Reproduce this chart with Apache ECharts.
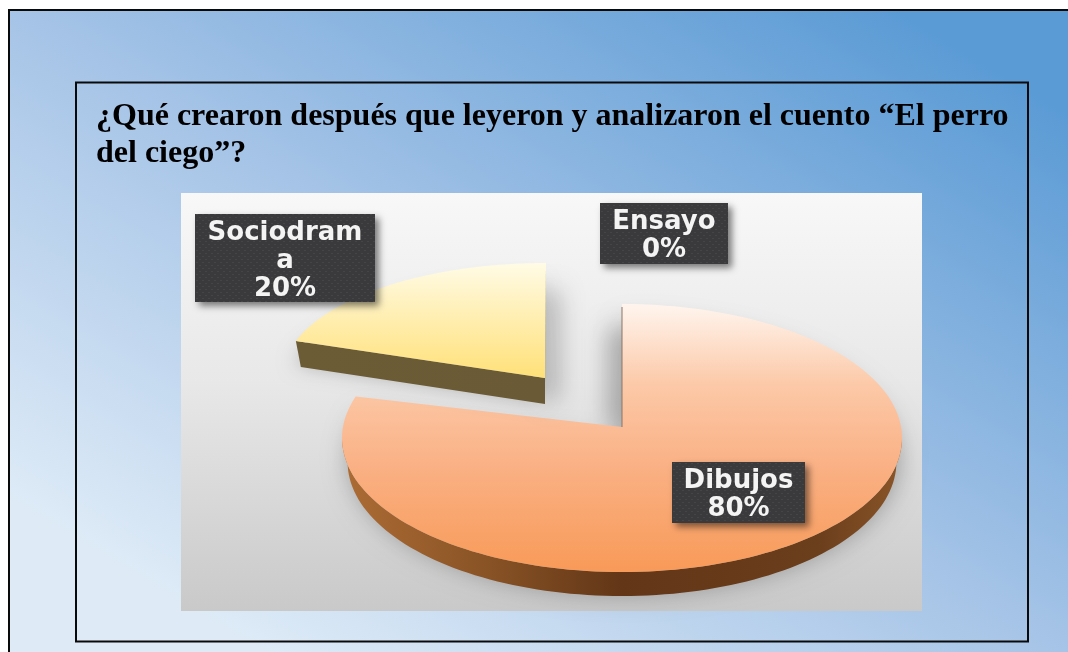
<!DOCTYPE html>
<html>
<head>
<meta charset="utf-8">
<style>html,body{margin:0;padding:0;background:#fff}#c{width:1068px;height:652px}</style>
<script src="https://cdn.jsdelivr.net/npm/echarts@6/dist/echarts.min.js"></script>
</head>
<body>
<div id="c"></div>
<script>
const titleLines = ['¿Qué crearon después que leyeron y analizaron el cuento “El perro', 'del ciego”?'];
const categories = ['Dibujos', 'Ensayo', 'Sociodrama'];
const labelNames = ['Dibujos', 'Ensayo', 'Sociodram\na'];
const values = [80, 0, 20];

// Drawing layout of each wedge (the picture has a perspective, so each wedge has its own ellipse)
const wedgeLayout = [
  {cx: 622, cy: 438, rx: 280, ry: 134, ax: 622, ay: 427, depth: 24, shadow: [2, 12, 26, 0.32],
    band: {dir: 1, w: 12, top: 24, bottom: 0, blur: 24, alpha: 0.36}},
  null,
  {cx: 546, cy: 376, rx: 263, ry: 113, ax: 545, ay: 378, depth: 26, shadow: [-6, 14, 20, 0.28],
    band: {dir: -1, w: 12, top: 28, bottom: 22, blur: 24, alpha: 0.36}}
];
const labelBoxes = [[672, 462, 133, 61], [600, 203, 128, 61], [195, 214, 180, 88]];
const faceStops = [
  [[0, '#fff5ee'], [0.3, '#fcc9a8'], [0.6, '#fab185'], [1, '#f89a58']],
  null,
  [[0, '#fffbe6'], [0.45, '#ffefb4'], [1, '#ffe078']]
];
const wallStops = [
  [[0, '#ad6c35'], [0.25, '#8a5426'], [0.5, '#623617'], [0.85, '#6b3e1c'], [1, '#8a5528']],
  null,
  [[0, '#6b5c36'], [1, '#6a5b36']]
];

const W = 1068, H = 652, WALL_SCALE = 0.98;
const total = values.reduce((a, b) => a + b, 0);
const LG = echarts.graphic.LinearGradient;

function dots() {
  const c = document.createElement('canvas');
  c.width = c.height = 6;
  const g = c.getContext('2d');
  g.fillStyle = '#3a3a3c'; g.fillRect(0, 0, 6, 6);
  g.fillStyle = '#454547'; g.fillRect(1, 1, 2, 1); g.fillRect(4, 4, 2, 1);
  return c;
}
const dotPattern = {image: dots(), repeat: 'repeat'};

function renderItem(params, api) {
  const i = params.dataIndex;
  const val = api.value(1);
  const before = values.slice(0, i).reduce((a, b) => a + b, 0);
  const a0 = before / total * 2 * Math.PI;
  const a1 = (before + val) / total * 2 * Math.PI;
  const children = [];
  const L = wedgeLayout[i];
  if (val > 0 && L) {
    const pt = a => [L.cx + Math.sin(a) * L.rx, L.cy - Math.cos(a) * L.ry];
    const low = p => [L.ax + (p[0] - L.ax) * WALL_SCALE, p[1] + L.depth];
    const arc = [];
    const n = 160;
    for (let k = 0; k <= n; k++) arc.push(a0 + (a1 - a0) * k / n);
    const face = [[L.ax, L.ay]].concat(arc.map(pt));

    const lowArc = arc.filter(a => Math.cos(a) <= 0.02);
    const wallPts = [];
    if (lowArc.length > 1) {
      const topP = lowArc.map(pt);
      const botP = topP.map(low).reverse();
      wallPts.push(topP.concat(botP));
    }
    // cut face at the start of the wedge, when it looks towards the viewer
    if (-Math.cos(a0 - Math.PI / 2) > 0.01) {
      const p = pt(a0);
      wallPts.push([p, [L.ax, L.ay], [L.ax, L.ay + L.depth], low(p)]);
    }
    const outline = face.map(p => [L.ax + (p[0] - L.ax) * 0.98, p[1] + 8]);
    const s = L.shadow;
    children.push({
      type: 'polygon', shape: {points: outline},
      style: {fill: '#9a9a9a', shadowColor: 'rgba(0,0,0,' + s[3] + ')', shadowBlur: s[2], shadowOffsetX: s[0], shadowOffsetY: s[1]}
    });
    // soft shadow thrown beside the vertical cut of the wedge; its source stays hidden under the wedge
    const B = L.band;
    children.push({
      type: 'rect',
      shape: {x: Math.min(L.ax, L.ax + B.dir * B.w), y: L.cy - L.ry + B.top, width: B.w, height: L.ay + B.bottom - (L.cy - L.ry + B.top)},
      style: {fill: '#cccccc', shadowColor: 'rgba(0,0,0,' + B.alpha + ')', shadowBlur: B.blur, shadowOffsetX: -B.dir * B.w, shadowOffsetY: 0}
    });
    wallPts.forEach(pts => children.push({
      type: 'polygon', shape: {points: pts},
      style: {fill: new LG(0, 0, 1, 0, wallStops[i].map(c => ({offset: c[0], color: c[1]})))}
    }));
    children.push({
      type: 'polygon', shape: {points: face},
      style: {fill: new LG(0, 0, 0, 1, faceStops[i].map(c => ({offset: c[0], color: c[1]})))}
    });
    if (a0 === 0) {
      children.push({type: 'line', shape: {x1: L.ax, y1: L.cy - L.ry + 3, x2: L.ax, y2: L.ay},
        style: {stroke: '#8b7768', lineWidth: 1}});
    }
  }
  const b = labelBoxes[i];
  children.push({
    type: 'rect', shape: {x: b[0], y: b[1], width: b[2], height: b[3]},
    style: {fill: dotPattern, shadowColor: 'rgba(0,0,0,0.5)', shadowBlur: 7, shadowOffsetX: 4, shadowOffsetY: 4}
  });
  children.push({
    type: 'text',
    style: {
      x: b[0] + b[2] / 2, y: b[1] + b[3] / 2 + 3, align: 'center', verticalAlign: 'middle',
      text: labelNames[i] + '\n' + Math.round(val / total * 100) + '%',
      fill: '#f4f4f4', font: 'bold 26px "DejaVu Sans"', lineHeight: 28
    }
  });
  return {type: 'group', children};
}

const chart = echarts.init(document.getElementById('c'), null, {renderer: 'canvas'});
chart.setOption({
  animation: false,
  backgroundColor: '#ffffff',
  title: {
    text: titleLines.join('\n'), left: 96, top: 98, padding: 0,
    textStyle: {fontFamily: '"Liberation Serif"', fontWeight: 'bold', fontSize: 32, lineHeight: 37, color: '#000'}
  },
  graphic: [
    {type: 'rect', z: -10, silent: true, shape: {x: 9, y: 10, width: W + 20, height: H + 20},
      style: {fill: new LG(818, -139, 250, 801, [
        {offset: 0.08, color: '#5b9bd5'}, {offset: 0.5, color: '#a6c4e7'}, {offset: 0.88, color: '#deebf7'}
      ], true), stroke: '#0a0a0a', lineWidth: 2}},
    {type: 'rect', z: -9, silent: true, shape: {x: 76, y: 82.5, width: 952, height: 559},
      style: {fill: 'transparent', stroke: '#0a0a0a', lineWidth: 2}},
    {type: 'rect', z: -8, silent: true, shape: {x: 181, y: 193, width: 741, height: 418},
      style: {fill: new LG(0, 0, 0, 1, [
        {offset: 0, color: '#f8f8f8'}, {offset: 0.45, color: '#e8e8e8'}, {offset: 1, color: '#c9c9c9'}
      ])}}
  ],
  series: [{
    type: 'custom',
    coordinateSystem: 'none',
    renderItem,
    data: categories.map((c, i) => [c, values[i]]),
    dimensions: ['category', 'value'],
    encode: {itemName: 0, value: 1}
  }]
});
</script>
</body>
</html>
